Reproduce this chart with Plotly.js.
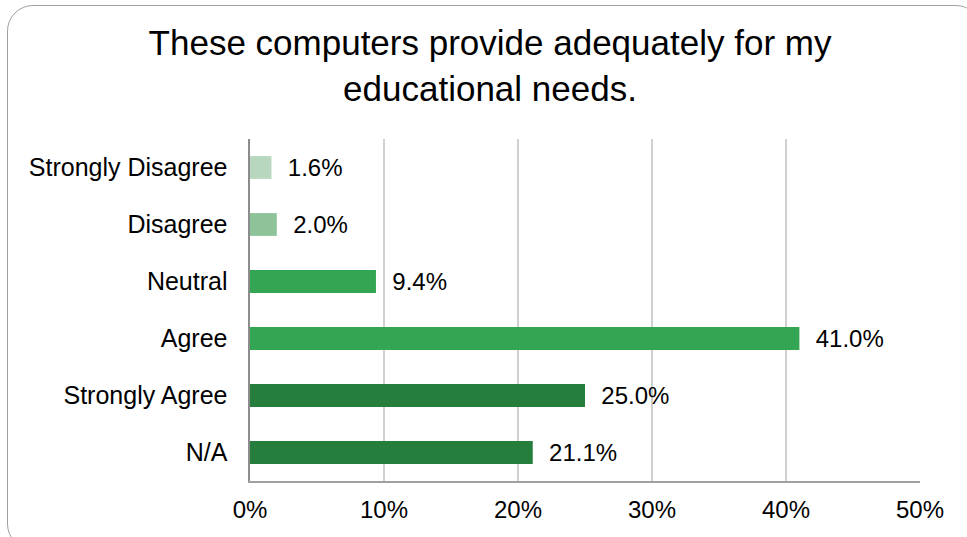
<!DOCTYPE html>
<html>
<head>
<meta charset="utf-8">
<script src="https://cdn.plot.ly/plotly-3.0.1.min.js"></script>
<style>
  html, body { margin: 0; padding: 0; width: 967px; height: 537px; overflow: hidden; background: #fff; }
  #frame { position: absolute; left: 7px; top: 5px; width: 975px; height: 545px; border: 1.5px solid #a0a0a0; border-radius: 26px; box-sizing: border-box; }
  #chart { position: absolute; left: 0; top: 0; width: 967px; height: 537px; }
</style>
</head>
<body>
<div id="frame"></div>
<div id="chart"></div>
<script>
const categories = ["Strongly Disagree", "Disagree", "Neutral", "Agree", "Strongly Agree", "N/A"];
const percentValues = [1.6, 2.0, 9.4, 41.0, 25.0, 21.1];
const barColors = ["#b7d7be", "#8ec39a", "#33a553", "#33a553", "#267e3d", "#267e3d"];
const xTickValues = [0, 10, 20, 30, 40, 50];
const xTickLabels = ["0%", "10%", "20%", "30%", "40%", "50%"];
const titleText = "These computers provide adequately for my<br>educational needs.";

const trace = {
  type: "bar",
  orientation: "h",
  y: categories,
  x: percentValues,
  marker: { color: barColors },
  text: percentValues.map(v => "  " + v.toFixed(1) + "%"),
  textposition: "outside",
  constraintext: "none",
  textfont: { family: "Liberation Sans, Arial, sans-serif", size: 24, color: "#000" },
  cliponaxis: false,
  hoverinfo: "none"
};

const layout = {
  width: 967,
  height: 537,
  margin: { l: 250, r: 47, t: 139, b: 56 },
  paper_bgcolor: "rgba(0,0,0,0)",
  plot_bgcolor: "rgba(0,0,0,0)",
  showlegend: false,
  bargap: 0.6,
  font: { family: "Liberation Sans, Arial, sans-serif", color: "#000" },
  title: {
    text: titleText,
    font: { family: "Liberation Sans, Arial, sans-serif", size: 35, color: "#000" },
    x: 490 / 967, xanchor: "center",
    xref: "container",
    y: 1 - 55 / 537, yanchor: "middle", yref: "container"
  },
  xaxis: {
    range: [0, 50],
    tickvals: xTickValues,
    ticktext: xTickLabels,
    showgrid: true,
    gridcolor: "#d0d0d0",
    gridwidth: 1.5,
    zeroline: false,
    showline: true,
    linecolor: "#a0a0a0",
    linewidth: 2,
    ticks: "",
    ticklabelstandoff: 6,
    tickfont: { size: 24, color: "#000" },
    fixedrange: true
  },
  yaxis: {
    autorange: "reversed",
    showgrid: false,
    zeroline: false,
    showline: true,
    linecolor: "#8c8c8c",
    linewidth: 2.5,
    ticks: "",
    ticklabelstandoff: 15,
    tickfont: { size: 25, color: "#000" },
    fixedrange: true
  }
};

Plotly.newPlot("chart", [trace], layout, { displayModeBar: false, staticPlot: true });
</script>
</body>
</html>
